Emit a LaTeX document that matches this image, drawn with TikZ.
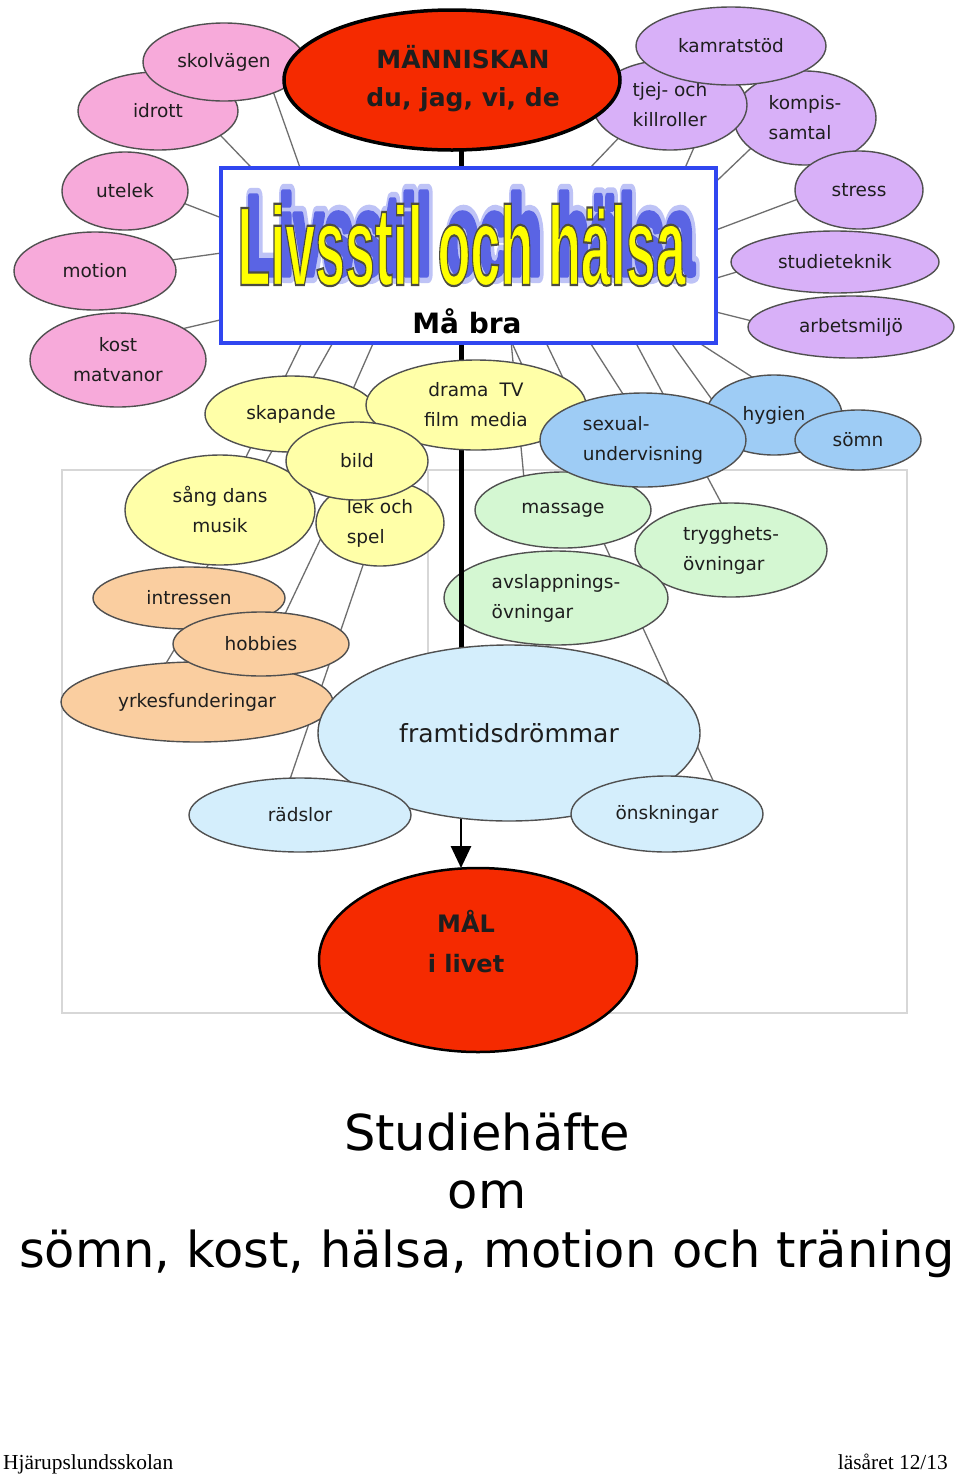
\documentclass[tikz,border=0pt]{standalone}
\usepackage{fontspec}
\usepackage{graphicx}
\usetikzlibrary{shapes.geometric,arrows.meta}
\setmainfont{DejaVu Sans}
\newfontfamily\dv{DejaVu Sans}
\newfontfamily\lib{Liberation Sans}
\newfontfamily\lser{Liberation Serif}
\newcommand\bubfont{\dv\fontsize{18.5}{30}\selectfont}
\newcommand\ttlstroke[1]{\special{pdf:literal direct 2 Tr #1}}
\newcommand\ttlreset{\special{pdf:literal direct 0 Tr}}
\newcommand\ttltext[1]{\scalebox{0.48}[1]{\lib\bfseries\fontsize{112}{112}\selectfont\ttlstroke{#1}Livsstil och hälsa\ttlreset}}
\definecolor{cred}{RGB}{245,42,0}
\definecolor{cpink}{RGB}{247,170,218}
\definecolor{cpurp}{RGB}{216,176,248}
\definecolor{cyell}{RGB}{255,255,168}
\definecolor{corng}{RGB}{250,206,160}
\definecolor{cgreen}{RGB}{212,247,210}
\definecolor{cblue}{RGB}{158,204,245}
\definecolor{clblue}{RGB}{212,238,252}
\definecolor{cboxb}{RGB}{48,70,240}
\definecolor{cconn}{RGB}{110,110,110}
\definecolor{cframe}{RGB}{215,215,215}
\definecolor{cshadl}{RGB}{190,195,246}
\definecolor{cshadd}{RGB}{90,100,228}
\definecolor{ctyel}{RGB}{255,255,0}
\definecolor{cedge}{RGB}{80,80,80}
\definecolor{ctext}{RGB}{30,30,30}
\begin{document}
\begin{tikzpicture}[x=1pt,y=-1pt,
  bub/.style={ellipse, draw=cedge, line width=1.4pt, inner sep=0pt, outer sep=0pt, text=ctext, font=\bubfont},
  sz/.style 2 args={minimum width=#1pt, minimum height=#2pt},
  pinkb/.style={bub, fill=cpink},
  purpb/.style={bub, fill=cpurp},
  yellb/.style={bub, fill=cyell},
  orngb/.style={bub, fill=corng},
  greenb/.style={bub, fill=cgreen},
  blueb/.style={bub, fill=cblue},
  lblueb/.style={bub, fill=clblue},
  redb/.style={ellipse, draw=black, fill=cred, inner sep=0pt, outer sep=0pt},
  conn/.style={draw=cconn, line width=1.3pt},
  vline/.style={draw=black, line width=5pt},
  arr/.style={draw=black, line width=2.8pt, -{Triangle[length=22pt,width=20pt]}},
  framel/.style={draw=cframe, line width=2.5pt},
  bigtxt/.style={anchor=base, inner sep=0pt, font=\dv\fontsize{49.5}{59}\selectfont},
  foot/.style={inner sep=0pt, font=\lser\fontsize{21.4}{24}\selectfont}
]
\useasboundingbox[fill=white] (0,0) rectangle (960,1476);

% frame
\node[framel, minimum width=845pt, minimum height=543pt, inner sep=0pt] (frame) at (484.5,741.5) {};
\coordinate (fa) at (428,470);
\coordinate (fb) at (428,660);
\draw[framel] (fa) -- (fb);

% connectors
\foreach \ax/\ay/\bx/\by [count=\i] in {
  262/60/310/196, 200/114/270/187, 160/194/250/229, 150/263/250/249, 160/334/250/313,
  630/126/570/189, 699/136/678/184, 770/130/700/197, 830/187/700/236, 760/265/700/283,
  780/328/700/308,
  510/330/526/500, 540/330/612/480, 582/330/646/430, 629/330/741/540, 662/330/723/415,
  679/330/850/440, 506/330/722/800,
  308/330/225/500, 340/330/195/588, 379/330/335/430, 340/498/275/635, 375/530/288/785,
  195/615/150/690}
{
  \coordinate (ca\i) at (\ax,\ay);
  \coordinate (cb\i) at (\bx,\by);
  \draw[conn] (ca\i) -- (cb\i);
}

% pink
\node[pinkb, sz={160}{78}] (idr) at (158,111) {idrott};
\node[pinkb, sz={162}{78}] (skol) at (224,62) {skolvägen};
\node[pinkb, sz={126}{78}] (ute) at (125,191) {utelek};
\node[pinkb, sz={162}{78}] (mot) at (95,271) {motion};
\node[pinkb, sz={176}{94}, align=center] (kost) at (118,360) {kost\\matvanor};

% purple
\node[purpb, sz={142}{94}, align=left] (komp) at (805,118) {kompis-\\samtal};
\node[purpb, sz={154}{90}, align=left] (tjej) at (670,105) {tjej- och\\killroller};
\node[purpb, sz={190}{78}] (kam) at (731,46) {kamratstöd};
\node[purpb, sz={128}{78}] (str) at (859,190) {stress};
\node[purpb, sz={208}{62}] (stu) at (835,262) {studieteknik};
\node[purpb, sz={206}{62}] (arb) at (851,327) {arbetsmiljö};

% orange
\node[orngb, sz={192}{62}] (intr) at (189,598) {intressen};
\node[orngb, sz={272}{80}] (yrk) at (197,702) {yrkesfunderingar};
\node[orngb, sz={176}{64}] (hob) at (261,644) {hobbies};

% green
\node[greenb, sz={176}{76}] (mas) at (563,510) {massage};
\node[greenb, sz={192}{94}, align=left] (try) at (731,550) {trygghets-\\övningar};
\node[greenb, sz={224}{94}, align=left] (avs) at (556,598) {avslappnings-\\övningar};

% MÅL and spine
\node[redb, line width=2.5pt, sz={318}{184}] (mal) at (478,960) {};
\coordinate (vtop) at (461,80);
\coordinate (vbot) at (461,733);
\draw[vline] (vtop) -- (vbot);
\draw[arr] (vbot) -- (vbot |- mal.north);

% light blue
\node[lblueb, sz={382}{176}, font=\dv\fontsize{25}{30}\selectfont] (frm) at (509,733) {framtidsdrömmar};
\node[lblueb, sz={222}{74}] (rad) at (300,815) {rädslor};
\node[lblueb, sz={192}{76}] (onsk) at (667,814) {önskningar};

% yellow
\node[yellb, sz={172}{76}] (skap) at (291,414) {skapande};
\node[yellb, sz={220}{90}, align=center] (dram) at (476,405) {drama\hspace{0.6em}TV\\film\hspace{0.6em}media};
\node[yellb, sz={128}{86}, align=left] (lek) at (380,523) {lek och\\spel};
\node[yellb, sz={190}{110}, align=center] (sang) at (220,510) {sång dans\\musik};
\node[yellb, sz={142}{78}] (bild) at (357,461) {bild};

% blue
\node[blueb, sz={136}{80}] (hyg) at (774,415) {hygien};
\node[blueb, sz={126}{60}] (som) at (858,440) {sömn};
\node[blueb, sz={206}{94}, align=left] (sex) at (643,440) {sexual-\\undervisning};

% title box
\node[draw=cboxb, line width=3.5pt, fill=white, minimum width=495pt, minimum height=175pt, inner sep=0pt] (box) at (468.5,255.5) {};
\node[anchor=base, text=cshadl, inner sep=0pt] (shw) at (471,274) {\ttltext{18 w 0.745 0.765 0.965 RG 1 J 1 j}};
\node[anchor=base, text=cshadd, inner sep=0pt] (shn) at (470,274) {\ttltext{7 w 0.353 0.392 0.894 RG 1 J 1 j}};
\node[anchor=base, text=ctyel, inner sep=0pt] (ttl) at (461.5,285) {\ttltext{2.2 w 0.3 0.3 0.25 RG}};
\node[anchor=base, inner sep=0pt, font=\dv\bfseries\fontsize{28}{30}\selectfont] (mab) at (467,333) {Må bra};

% MÄNNISKAN
\node[redb, line width=3.5pt, sz={336}{140}] (man) at (452,80) {};
\node[align=center, inner sep=0pt, text=ctext, font=\dv\bfseries\fontsize{25}{38}\selectfont] (mant) at (463,79) {MÄNNISKAN\\du, jag, vi, de};

% MÅL text
\node[align=center, inner sep=0pt, text=ctext, font=\dv\bfseries\fontsize{24}{40}\selectfont] (malt) at (466,942) {MÅL\\i livet};

% bottom texts
\node[bigtxt] (st1) at (487,1150) {Studiehäfte};
\node[bigtxt] (st2) at (487,1208) {om};
\node[bigtxt] (st3) at (487,1267) {sömn, kost, hälsa, motion och träning};
\node[foot, anchor=base west] (ft1) at (3,1469) {Hjärupslundsskolan};
\node[foot, anchor=base east] (ft2) at (948,1469) {läsåret 12/13};
\end{tikzpicture}
\end{document}
